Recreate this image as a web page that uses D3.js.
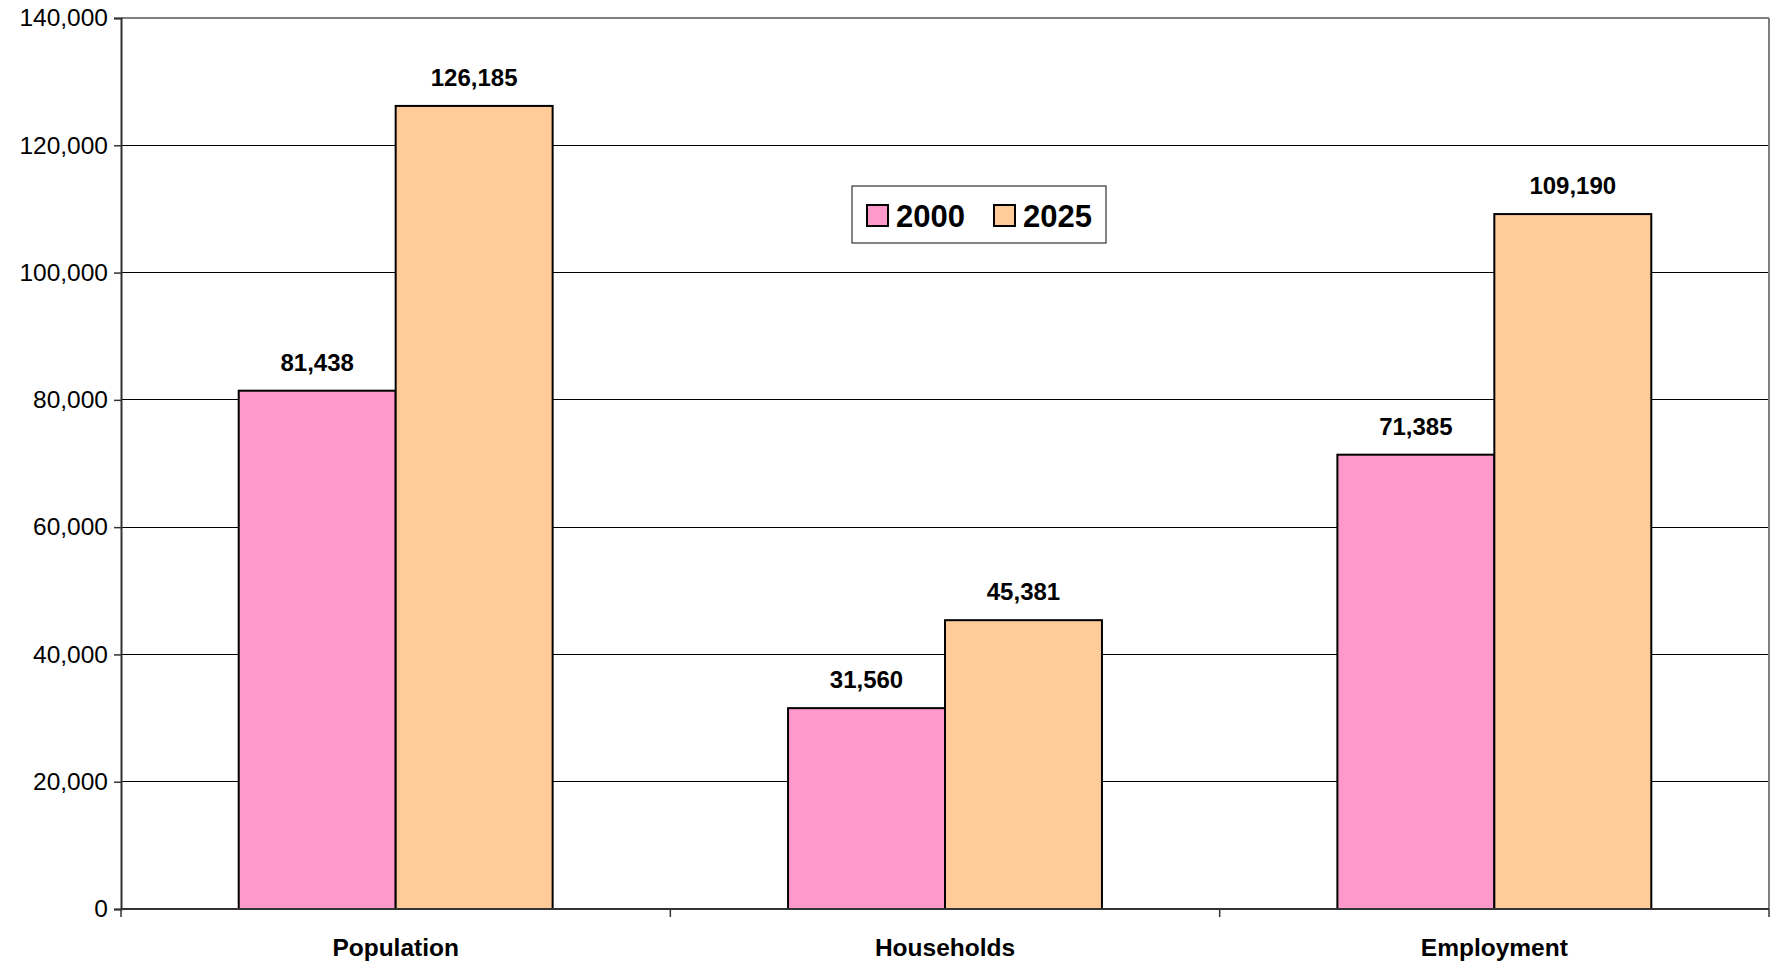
<!DOCTYPE html>
<html>
<head>
<meta charset="utf-8">
<script src="https://cdn.jsdelivr.net/npm/d3@7/dist/d3.min.js"></script>
<style>
  html, body { margin: 0; padding: 0; background: #fff; }
  svg { display: block; font-family: "Liberation Sans", Arial, sans-serif; }
</style>
</head>
<body>
<svg id="chart" width="1774" height="964"></svg>
<script>
const categories = ["Population", "Households", "Employment"];
const seriesNames = ["2000", "2025"];
const values2000 = [81438, 31560, 71385];
const values2025 = [126185, 45381, 109190];
const yTicks = [0, 20000, 40000, 60000, 80000, 100000, 120000, 140000];
const colors = ["#FF99CC", "#FFCC99"];

const W = 1774, H = 964;
const m = { left: 121, top: 18, right: W - 1769, bottom: H - 909 };
const svg = d3.select("#chart");
const plotW = W - m.left - m.right, plotH = H - m.top - m.bottom;
const g = svg.append("g").attr("transform", `translate(${m.left},${m.top})`);

const x0 = d3.scaleBand().domain(categories).range([0, plotW]).paddingInner(0).paddingOuter(0);
// Excel gap width 150%: group of 2 bars, gap = 1.5 bar widths
const barW = x0.bandwidth() / (2 + 1.5);
const x1 = d3.scaleBand().domain(seriesNames).range([0, barW * 2]);
const y = d3.scaleLinear().domain([0, 140000]).range([plotH, 0]);

// gridlines
g.append("g").selectAll("line").data(yTicks.filter(t => t > 0 && t < 140000)).join("line")
  .attr("x1", 0).attr("x2", plotW)
  .attr("y1", d => y(d)).attr("y2", d => y(d))
  .attr("stroke", "#000").attr("stroke-width", 1).attr("shape-rendering", "crispEdges");

// plot border (top & right gray)
g.append("line").attr("x1", 0).attr("x2", plotW).attr("y1", 0).attr("y2", 0)
  .attr("stroke", "#808080").attr("stroke-width", 2);
g.append("line").attr("x1", plotW).attr("x2", plotW).attr("y1", 0).attr("y2", plotH)
  .attr("stroke", "#808080").attr("stroke-width", 2);

const data = categories.map((c, i) => ({ cat: c, vals: [values2000[i], values2025[i]] }));

// bars
const groups = g.selectAll(".grp").data(data).join("g")
  .attr("transform", d => `translate(${x0(d.cat) + x0.bandwidth() / 2 - barW},0)`);
groups.selectAll("rect").data(d => d.vals.map((v, j) => ({ v, s: seriesNames[j], j }))).join("rect")
  .attr("x", d => x1(d.s)).attr("width", x1.bandwidth())
  .attr("y", d => y(d.v)).attr("height", d => plotH - y(d.v))
  .attr("fill", d => colors[d.j]).attr("stroke", "#000").attr("stroke-width", 2);
groups.selectAll("text").data(d => d.vals.map((v, j) => ({ v, s: seriesNames[j] }))).join("text")
  .attr("x", d => x1(d.s) + x1.bandwidth() / 2)
  .attr("y", d => y(d.v) - 20)
  .attr("text-anchor", "middle").attr("font-weight", "bold").attr("font-size", 24)
  .attr("fill", "#000").text(d => d3.format(",")(d.v));

// y axis
const yAxis = d3.axisLeft(y).tickValues(yTicks).tickSize(7).tickPadding(6).tickFormat(d3.format(","));
const ya = g.append("g").call(yAxis);
ya.select(".domain").attr("stroke", "#333").attr("stroke-width", 2);
ya.selectAll(".tick line").attr("stroke", "#333").attr("stroke-width", 1.5);
ya.selectAll(".tick text").attr("font-size", 24.5).attr("fill", "#000")
  .attr("font-family", "Liberation Sans, Arial, sans-serif");

// x axis
const xa = g.append("g").attr("transform", `translate(0,${plotH})`);
xa.append("line").attr("x1", 0).attr("x2", plotW).attr("y1", 0).attr("y2", 0)
  .attr("stroke", "#333").attr("stroke-width", 2);
const boundaries = categories.map(c => x0(c)).concat([plotW]);
xa.selectAll(".xt").data(boundaries).join("line")
  .attr("x1", d => d).attr("x2", d => d).attr("y1", 0).attr("y2", 8)
  .attr("stroke", "#333").attr("stroke-width", 1.5);
xa.selectAll(".xl").data(categories).join("text")
  .attr("x", d => x0(d) + x0.bandwidth() / 2).attr("y", 47)
  .attr("text-anchor", "middle").attr("font-weight", "bold").attr("font-size", 24.5)
  .attr("fill", "#000").text(d => d);

// legend
const lg = svg.append("g").attr("transform", "translate(852,186)");
lg.append("rect").attr("x", 0).attr("y", 0).attr("width", 254).attr("height", 57)
  .attr("fill", "#fff").attr("stroke", "#333").attr("stroke-width", 1.2);
const lx = [15, 142];
seriesNames.forEach((s, i) => {
  lg.append("rect").attr("x", lx[i]).attr("y", 19).attr("width", 21).attr("height", 21)
    .attr("fill", colors[i]).attr("stroke", "#000").attr("stroke-width", 2);
  lg.append("text").attr("x", lx[i] + 29).attr("y", 40.5)
    .attr("font-weight", "bold").attr("font-size", 31).attr("fill", "#000").text(s);
});
</script>
</body>
</html>
